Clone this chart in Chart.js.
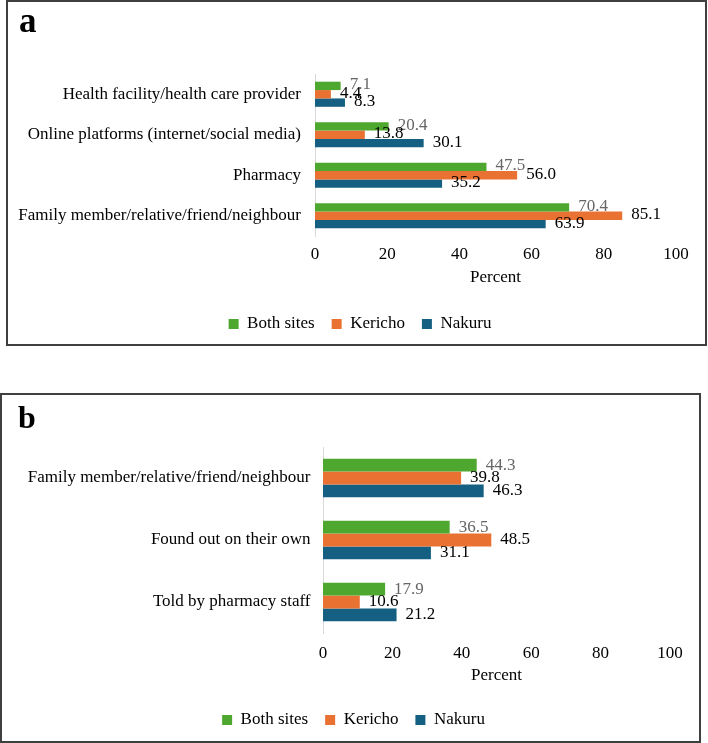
<!DOCTYPE html>
<html>
<head>
<meta charset="utf-8">
<script src="https://cdn.jsdelivr.net/npm/chart.js@4.4.1/dist/chart.umd.min.js"></script>
<style>
html,body{margin:0;padding:0;background:#fff;width:708px;height:743px;overflow:hidden;position:relative;}
.panel{position:absolute;box-sizing:border-box;border:2px solid #3f3f3f;background:#fff;}
.panel canvas{position:absolute;left:0;top:0;}
.letter{position:absolute;font-family:'Liberation Serif','Times New Roman',serif;font-weight:bold;line-height:1;color:#000;z-index:2;}
</style>
</head>
<body>
<div class="panel" style="left:6px;top:0px;width:701px;height:346px;"><canvas id="ca" width="697" height="342"></canvas></div>
<div class="panel" style="left:0px;top:393px;width:701px;height:350px;"><canvas id="cb" width="697" height="346"></canvas></div>
<div class="letter" id="la" style="left:19px;top:3px;font-size:35px;"></div>
<div class="letter" id="lb" style="left:18px;top:401px;font-size:32px;"></div>
<script>
// ---- data ----
const panelLetters = ['a', 'b'];
const seriesNames = ['Both sites', 'Kericho', 'Nakuru'];
const seriesColors = ['#4EA72E', '#E97132', '#156082'];
const labelColors = ['#666666', '#000000', '#000000'];
const axisTitle = 'Percent';
const xTicks = [0, 20, 40, 60, 80, 100];

const categoriesA = ['Health facility/health care provider', 'Online platforms (internet/social media)', 'Pharmacy', 'Family member/relative/friend/neighbour'];
const bothSitesA = [7.1, 20.4, 47.5, 70.4];
const kerichoA = [4.4, 13.8, 56.0, 85.1];
const nakuruA = [8.3, 30.1, 35.2, 63.9];

const categoriesB = ['Family member/relative/friend/neighbour', 'Found out on their own', 'Told by pharmacy staff'];
const bothSitesB = [44.3, 36.5, 17.9];
const kerichoB = [39.8, 48.5, 10.6];
const nakuruB = [46.3, 31.1, 21.2];

// ---- rendering ----
Chart.defaults.font.family = "'Liberation Serif', 'Times New Roman', serif";
Chart.defaults.font.size = 17;
Chart.defaults.color = '#000';

document.getElementById('la').textContent = panelLetters[0];
document.getElementById('lb').textContent = panelLetters[1];

const valueLabels = {
  id: 'valueLabels',
  afterDatasetsDraw(chart, args, opts) {
    const ctx = chart.ctx;
    ctx.save();
    ctx.font = "17px 'Liberation Serif', 'Times New Roman', serif";
    ctx.textAlign = 'left';
    ctx.textBaseline = 'middle';
    chart.data.datasets.forEach((ds, i) => {
      const meta = chart.getDatasetMeta(i);
      if (meta.hidden) return;
      meta.data.forEach((bar, j) => {
        ctx.fillStyle = labelColors[i];
        ctx.fillText(ds.data[j].toFixed(1), bar.x + opts.dx, bar.y + opts.dy);
      });
    });
    ctx.restore();
  }
};

// nudges the bottom legend horizontally so it is centred like the original
const legendShift = {
  id: 'legendShift',
  afterLayout(chart, args, opts) {
    const lg = chart.legend;
    if (lg) { lg.left += opts.dx; lg.right += opts.dx; }
  }
};

function makeChart(id, categories, values, L) {
  return new Chart(document.getElementById(id), {
    type: 'bar',
    data: {
      labels: categories,
      datasets: values.map((v, i) => ({
        label: seriesNames[i],
        data: v,
        backgroundColor: seriesColors[i],
        borderWidth: 0,
        categoryPercentage: 0.62,
        barPercentage: 1.0
      }))
    },
    options: {
      indexAxis: 'y',
      responsive: false,
      animation: false,
      layout: { padding: { left: L.pl, right: L.pr, top: L.pt, bottom: L.pb } },
      scales: {
        x: {
          type: 'linear', min: 0, max: 100,
          grid: { display: false, drawTicks: false },
          border: { display: false },
          ticks: { padding: L.xPad, color: '#000' },
          afterBuildTicks(s) { s.ticks = xTicks.map(v => ({ value: v })); },
          title: { display: true, text: axisTitle, color: '#000', padding: { top: L.tTop, bottom: L.tBot } }
        },
        y: {
          type: 'category',
          grid: { display: false, drawTicks: false },
          border: { display: true, color: '#d9d9d9', width: 1 },
          ticks: { padding: L.yPad, color: '#000', autoSkip: false },
          afterFit(s) { s.width = L.yWidth; }
        }
      },
      plugins: {
        legend: {
          position: 'bottom',
          labels: { boxWidth: 10, boxHeight: 10, padding: 17, color: '#000' }
        },
        tooltip: { enabled: false },
        valueLabels: { dx: 9, dy: L.dy },
        legendShift: { dx: L.legendDx }
      }
    },
    plugins: [valueLabels, legendShift]
  });
}

makeChart('ca', categoriesA, [bothSitesA, kerichoA, nakuruA],
  { pl: 8, pr: 29, pt: 72, pb: 1.5, yWidth: 299, yPad: 14, xPad: 8, tTop: -4.6, tBot: 10.3, dy: -1, legendDx: 14 });
makeChart('cb', categoriesB, [bothSitesB, kerichoB, nakuruB],
  { pl: 8, pr: 29, pt: 52, pb: 2.5, yWidth: 313, yPad: 12.5, xPad: 10, tTop: -7.6, tBot: 8.3, dy: 0, legendDx: 13.5 });
</script>
</body>
</html>
